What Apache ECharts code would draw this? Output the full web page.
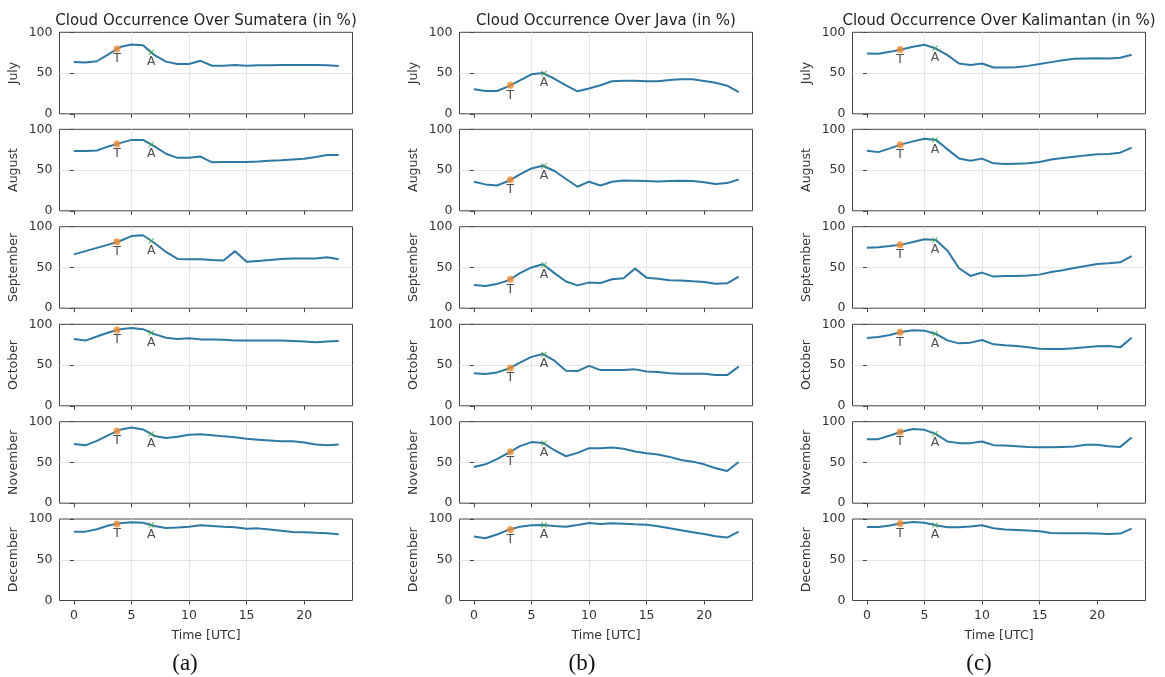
<!DOCTYPE html>
<html>
<head>
<meta charset="utf-8">
<script src="https://cdn.jsdelivr.net/npm/echarts@6/dist/echarts.min.js"></script>
<style>
  html, body { margin: 0; padding: 0; background: #fff; }
  #chart { width: 1165px; height: 677px; }
</style>
</head>
<body>
<div id="chart"></div>
<script>
// hours of the day (UTC)
const hours = [0, 1, 2, 3, 4, 5, 6, 7, 8, 9, 10, 11, 12, 13, 14, 15, 16, 17, 18, 19, 20, 21, 22, 23]
const xTicks = [0, 5, 10, 15, 20]
const months = ['July', 'August', 'September', 'October', 'November', 'December']
const islands = ['Sumatera', 'Java', 'Kalimantan']
const panelTags = ['(a)', '(b)', '(c)']

// cloud occurrence (%), one row per month Jul..Dec
const sumatera = [
  [63.5, 63, 64.5, 73, 82, 85, 84, 72, 64, 61, 61, 65, 59, 59, 60, 59, 59.5, 59.5, 60, 60, 60, 60, 59.5, 58.5],
  [73.5, 73.5, 74, 79, 83, 87, 87, 79, 70, 65, 65, 66.5, 59.5, 60, 60, 60, 60.5, 61.5, 62, 63, 64, 66, 68.5, 68.5],
  [66, 70, 74, 78, 82.5, 88.5, 89.5, 80, 69, 60.5, 60, 60, 59, 58.5, 70, 57, 58, 59, 60.5, 61, 61, 61, 62.5, 60],
  [82, 80, 85, 90, 94, 95.5, 94, 88, 83.5, 82, 83, 81.5, 81.5, 81, 80, 80, 80, 80, 80, 79.5, 79, 78, 79, 79.5],
  [72.5, 71, 76.5, 83.5, 90, 93, 90.5, 82.5, 80, 81.5, 84, 84.5, 83.5, 82, 81, 79, 78, 77, 76, 76, 74.5, 72, 71, 72],
  [84.5, 84.5, 87.5, 92, 94.7, 96, 95.5, 91.5, 89, 89.5, 90.5, 92.3, 91.5, 90.5, 90, 88, 88.5, 87, 85.5, 84, 83.7, 83, 82.5, 81.3]
]
const java = [
  [30, 28, 28, 33.7, 41, 48.5, 50, 43, 35, 27.6, 31, 35, 40, 40.7, 40.7, 40, 40, 41.5, 42.4, 42.4, 40.3, 38, 34.5, 26.7],
  [35.7, 32.4, 31, 36.5, 44.7, 52, 55.3, 48.8, 39, 29.5, 35.7, 31, 35.7, 37.3, 37, 36.5, 36, 36.5, 37, 36.5, 35, 32.8, 34, 38.5],
  [28.6, 27.3, 29.8, 34, 43, 50, 54, 43, 32.7, 28, 31.4, 31, 35.5, 36.7, 48.6, 37.5, 36, 34.3, 34, 33, 32.2, 30, 30.6, 38.8],
  [39.8, 39, 41, 45.5, 53, 60, 63.5, 55.3, 43, 42.6, 49, 43.8, 43.8, 43.8, 44.7, 42.2, 41.4, 40, 39.3, 39.3, 39.3, 37.7, 37.7, 48],
  [44.4, 47.7, 54, 61.7, 70, 75, 74, 65, 57.6, 61.7, 67.5, 67.5, 68.3, 66.7, 63.4, 61.3, 59.7, 56.8, 53, 51, 47.7, 42.8, 39.5, 50.6],
  [78.5, 76.4, 81, 86.6, 90.6, 92.3, 92.7, 91.5, 90.6, 92.7, 95, 94, 94.7, 94.3, 93.5, 93, 91, 88.6, 86.2, 83.7, 81.7, 78.9, 77.2, 84.5]
]
const kalimantan = [
  [74, 73.7, 76, 79, 82.3, 84.8, 80, 72, 61.7, 60, 61.7, 56.8, 56.8, 57.2, 58.8, 61, 63.4, 65.8, 67.5, 68, 68.3, 68, 68.7, 72.4],
  [73.8, 72, 76.6, 81.5, 85.2, 88.5, 87, 75.4, 64.3, 61.5, 64, 58.2, 57.4, 57.8, 58.2, 59.8, 63, 64.8, 66.4, 68, 69.3, 69.7, 71.3, 77.5],
  [74.3, 74.7, 76.3, 78, 81.2, 84.5, 83.7, 70.6, 49, 39.6, 43.7, 38.8, 39.6, 39.6, 40, 41.2, 44.5, 46.5, 49.4, 51.8, 54.3, 55.1, 56.3, 64],
  [83.2, 84.4, 86.9, 90.6, 92.6, 92.2, 88.1, 80.3, 76.6, 77.5, 80.7, 75.4, 74.2, 73.4, 71.7, 70, 69.7, 69.7, 70.5, 71.7, 73, 73.4, 71.7, 83.6],
  [78.6, 78.6, 83, 87.6, 91, 90, 84.8, 75.7, 73.7, 73.7, 75.7, 71.2, 70.8, 70, 69.1, 68.7, 68.7, 69.1, 69.5, 71.6, 71.6, 70, 69.1, 80.7],
  [90.2, 90.2, 91.9, 94.7, 96.3, 95.5, 92.3, 89.8, 89.8, 90.7, 92.3, 88.6, 87, 86.6, 85.8, 85, 82.9, 82.5, 82.5, 82.5, 82.1, 81.7, 82.1, 88.2]
]

// T and A markers: [hour, value] per month
const sumateraT = [[3.74, 79.5], [3.74, 82], [3.74, 81.5], [3.74, 93], [3.74, 88.5], [3.74, 94]]
const sumateraA = [[6.72, 75.5], [6.72, 81.5], [6.72, 82.5], [6.72, 89.5], [6.72, 85], [6.72, 92.5]]
const javaT = [[3.17, 35], [3.17, 38], [3.17, 35.5], [3.17, 46.5], [3.17, 63], [3.17, 87.2]]
const javaA = [[6.09, 49.5], [6.09, 55], [6.09, 53], [6.09, 63], [6.09, 73.5], [6.09, 92.6]]
const kalimantanT = [[2.89, 78.8], [2.89, 81], [2.89, 77.8], [2.89, 90.2], [2.89, 87.5], [2.89, 94.6]]
const kalimantanA = [[5.92, 80.5], [5.92, 87], [5.92, 83.8], [5.92, 88.4], [5.92, 85.3], [5.92, 92.5]]

const lines = [sumatera, java, kalimantan]
const tMarks = [sumateraT, javaT, kalimantanT]
const aMarks = [sumateraA, javaA, kalimantanA]

// layout
const colLeft = [59.5, 459.5, 852.5]
const plotW = 293
const rowTop = [32.3, 129.3, 226.7, 324.3, 421.7, 519]
const plotH = 81.5
const tagX = [180, 577, 974]
const FONT = 'DejaVu Sans'
const lineColor = '#2e78a4'
const xShape = 'path://M0,1.2L1.2,0L5,3.8L8.8,0L10,1.2L6.2,5L10,8.8L8.8,10L5,6.2L1.2,10L0,8.8L3.8,5Z'

const grid = [], xAxis = [], yAxis = [], series = [], title = []

islands.forEach((isl, c) => {
  title.push({
    text: `Cloud Occurrence Over ${isl} (in %)`,
    left: colLeft[c] + plotW / 2 - 5,
    top: 9,
    textAlign: 'center',
    textStyle: { fontFamily: FONT, fontSize: 15, fontWeight: 'normal', color: '#222' }
  })
  title.push({
    text: panelTags[c],
    left: tagX[c],
    top: 647,
    textAlign: 'center',
    textStyle: { fontFamily: 'Liberation Serif', fontSize: 23, fontWeight: 'normal', color: '#111' }
  })

  months.forEach((m, r) => {
    const idx = grid.length
    const last = r === months.length - 1
    grid.push({
      left: colLeft[c], top: rowTop[r], width: plotW, height: plotH,
      show: true, borderColor: '#444', borderWidth: 1, backgroundColor: 'transparent'
    })
    xAxis.push({
      type: 'value', gridIndex: idx, min: -1.25, max: 24.2,
      axisLine: { show: false },
      axisTick: { show: true, customValues: xTicks, length: 4, lineStyle: { color: '#444' } },
      axisLabel: { show: last, customValues: xTicks, fontFamily: FONT, fontSize: 12.5, color: '#333', margin: 9 },
      splitLine: { show: true, showMinLine: false, showMaxLine: false, lineStyle: { color: '#e4e4e4', width: 1 } },
      name: last ? 'Time [UTC]' : '',
      nameLocation: 'middle', nameGap: 29,
      nameTextStyle: { fontFamily: FONT, fontSize: 12.5, color: '#333' }
    })
    yAxis.push({
      type: 'value', gridIndex: idx, min: 0, max: 100, interval: 50,
      axisLine: { show: false },
      axisTick: { show: true, length: 4, lineStyle: { color: '#444' } },
      axisLabel: { fontFamily: FONT, fontSize: 12.5, color: '#333', margin: 7 },
      splitLine: { show: true, showMinLine: false, showMaxLine: false, lineStyle: { color: '#e4e4e4', width: 1 } },
      name: m, nameLocation: 'middle', nameGap: 39, nameRotate: 90,
      nameTextStyle: { fontFamily: FONT, fontSize: 12.5, color: '#333' }
    })
    series.push({
      type: 'line', xAxisIndex: idx, yAxisIndex: idx,
      data: hours.map((h, i) => [h, lines[c][r][i]]),
      symbol: 'none', silent: true,
      lineStyle: { color: lineColor, width: 2 }
    })
    series.push({
      type: 'scatter', xAxisIndex: idx, yAxisIndex: idx,
      data: [tMarks[c][r]], symbol: 'circle', symbolSize: 7,
      itemStyle: { color: '#ee8a30' }, z: 5,
      label: { show: true, formatter: 'T', position: 'bottom', distance: 0, fontFamily: FONT, fontSize: 12.5, color: '#222' }
    })
    series.push({
      type: 'scatter', xAxisIndex: idx, yAxisIndex: idx,
      data: [aMarks[c][r]], symbol: xShape, symbolSize: 6,
      itemStyle: { color: '#3fa33f' }, z: 5,
      label: { show: true, formatter: 'A', position: 'bottom', distance: 0, fontFamily: FONT, fontSize: 12.5, color: '#222' }
    })
  })
})

const chart = echarts.init(document.getElementById('chart'))
chart.setOption({
  animation: false,
  backgroundColor: '#fff',
  title, grid, xAxis, yAxis, series
})
</script>
</body>
</html>
